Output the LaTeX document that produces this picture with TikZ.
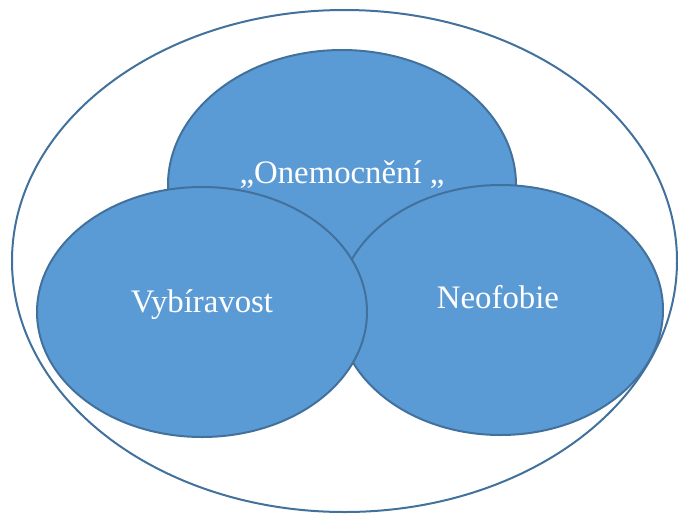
\documentclass[tikz,border=0pt]{standalone}
\usepackage{fontspec}
\setmainfont{Liberation Serif}
\definecolor{blobfill}{HTML}{5B9BD5}
\definecolor{blobline}{HTML}{41719C}
\tikzset{
  blob/.style={fill=blobfill, draw=blobline, line width=2pt},
  lbl/.style={text=white, font=\fontsize{32.8}{38}\selectfont, inner sep=0pt}
}
\begin{document}
\begin{tikzpicture}[x=1pt,y=1pt]
\useasboundingbox (0,0) rectangle (678,-515);
\draw[draw=blobline, line width=2pt] (344.5,-261) ellipse [x radius=332.5, y radius=251];
\filldraw[blob] (342,-185) ellipse [x radius=174, y radius=135];
\filldraw[blob] (500.5,-310) ellipse [x radius=162.5, y radius=125];
\filldraw[blob] (202,-312) ellipse [x radius=165, y radius=125];
\node[lbl, anchor=base] (top) at (342,-183) {„Onemocnění „};
\node[lbl, anchor=base] (left) at (202,-312) {Vybíravost};
\node[lbl, anchor=base] (right) at (498,-308) {Neofobie};
\end{tikzpicture}
\end{document}
